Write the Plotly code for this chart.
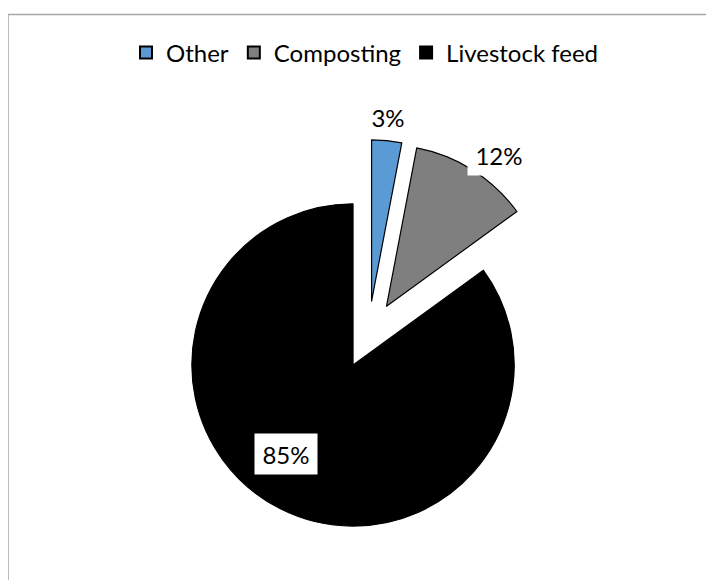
import plotly.graph_objects as go

# Data
categories = ["Other", "Composting", "Livestock feed"]
values = [3, 12, 85]
colors = ["#5B9BD5", "#7F7F7F", "#000000"]

W, H = 714, 580
OFF = 8  # page body margin offset

total = sum(values)
pct_labels = [f"{round(v / total * 100)}%" for v in values]

# pie geometry (pixels, page coords)
cx, cy, box = 368.4 - OFF, 334.8 - OFF, 390.0

fig = go.Figure(
    go.Pie(
        labels=categories,
        values=values,
        sort=False,
        direction="clockwise",
        rotation=0,
        pull=[0.21, 0.21, 0.21],
        marker=dict(colors=colors, line=dict(color="#000000", width=1.2)),
        textinfo="none",
        hoverinfo="label+percent",
        domain=dict(
            x=[(cx - box / 2) / W, (cx + box / 2) / W],
            y=[(H - (cy + box / 2)) / H, (H - (cy - box / 2)) / H],
        ),
    )
)

# data-label positions (pixels): Other, Composting, Livestock feed
label_pos = [(387.5, 117.5), (499, 155), (285.5, 454)]
for txt, (px, py) in zip(pct_labels, label_pos):
    fig.add_annotation(
        x=(px - OFF) / W, y=1 - (py - OFF) / H, xref="paper", yref="paper",
        text=txt, showarrow=False,
        font=dict(family="Lato", size=24, color="#000000"),
        bgcolor="#FFFFFF", width=60, height=38,
        xanchor="center", yanchor="middle",
    )

# chart-area border (cropped on right and bottom)
fig.add_shape(
    type="rect", xref="paper", yref="paper",
    x0=(7.5 - OFF + 0.5) / W, x1=1.2, y0=-0.2, y1=1 - (14.5 - OFF) / H,
    line=dict(color="#A6A6A6", width=1.5), fillcolor="rgba(0,0,0,0)",
)

fig.update_layout(
    width=W, height=H,
    margin=dict(l=0, r=0, t=0, b=0),
    paper_bgcolor="#FFFFFF",
    plot_bgcolor="#FFFFFF",
    font=dict(family="Lato", size=24, color="#000000"),
    showlegend=True,
    legend=dict(
        orientation="h",
        x=(365 - OFF) / W, xanchor="center",
        y=1 - (53 - OFF) / H, yanchor="middle",
        font=dict(family="Lato", size=24, color="#000000"),
        itemsizing="constant",
        bgcolor="rgba(0,0,0,0)",
    ),
)

fig.write_html("out.html")
